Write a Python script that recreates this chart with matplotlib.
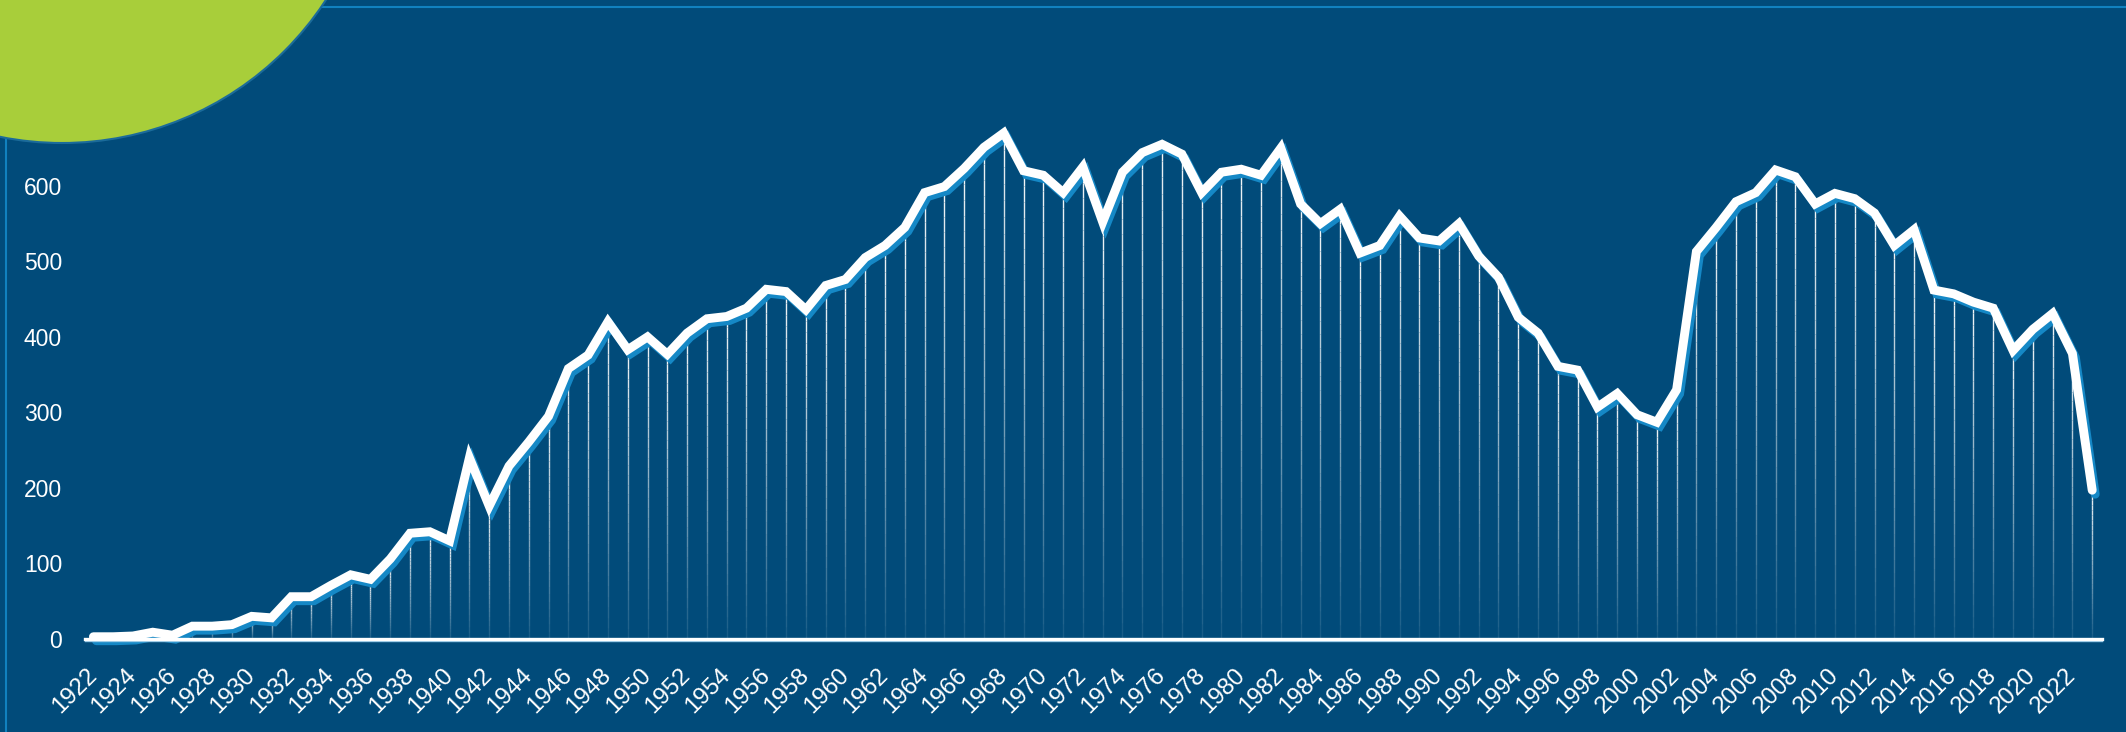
import matplotlib
matplotlib.use("Agg")
import matplotlib.pyplot as plt
import numpy as np
from matplotlib.collections import LineCollection
from matplotlib.lines import Line2D
from matplotlib.patches import Circle
from matplotlib.transforms import offset_copy


years = list(range(1922, 2024))
counts = [
    3, 3, 4, 9, 5, 17, 17, 19, 30, 28,
    56, 56, 71, 85, 79, 106, 140, 142, 130, 240,
    176, 229, 261, 295, 358, 376, 420, 383, 400, 377,
    405, 424, 427, 438, 463, 460, 436, 468, 476, 505,
    521, 545, 591, 599, 623, 651, 670, 620, 614, 591,
    625, 552, 618, 644, 655, 642, 591, 618, 622, 614,
    650, 576, 550, 569, 511, 521, 560, 531, 527, 550,
    507, 479, 426, 405, 361, 356, 307, 325, 297, 287,
    330, 513, 545, 579, 591, 621, 612, 576, 590, 583,
    564, 521, 542, 462, 457, 446, 438, 382, 410, 431,
    378, 197,
]
y_ticks = [0, 100, 200, 300, 400, 500, 600]
x_ticks = list(range(1922, 2023, 2))

BG = "#014b7a"
SHADOW = "#1588c6"
FRAME = "#1181bf"
GREEN = "#a8ce3a"

W, H, DPI = 2126, 732, 100

plt.rcParams["font.family"] = ["Liberation Sans", "DejaVu Sans"]

fig = plt.figure(figsize=(W / DPI, H / DPI), dpi=DPI, facecolor=BG)

# decoration: frame lines and the green corner disc
fig.add_artist(Line2D([6 / W, 6 / W], [0, 1 - 7 / H], color=FRAME, lw=1.5, zorder=1))
fig.add_artist(Line2D([0, 1], [1 - 7 / H, 1 - 7 / H], color=FRAME, lw=1.5, zorder=1))
fig.add_artist(Circle((0.62, 9.04), 3.15, transform=fig.dpi_scale_trans,
                      facecolor=GREEN, edgecolor="#1b6b9a", lw=1.5, zorder=2))

left, right = 85 / W, 2102 / W
bottom = (H - 639) / H
height = 528.7 / H
ax = fig.add_axes([left, bottom, right - left, height])
ax.set_facecolor("none")
xmin, xmax = 1922 - 8.4 / 19.79, 2023 + 9.8 / 19.79
ax.set_xlim(xmin, xmax)
ax.set_ylim(0, 700)
for side in ax.spines.values():
    side.set_visible(False)

# drop lines fading towards the baseline
segs, cols = [], []
n = 30
for x, v in zip(years, counts):
    edges = np.linspace(v, 0, n + 1)
    for i in range(n):
        segs.append([(x, edges[i]), (x, edges[i + 1])])
        cols.append((1, 1, 1, 0.95 - 0.85 * i / (n - 1)))
ax.add_collection(LineCollection(segs, colors=cols, linewidths=1.0, zorder=2))

shadow = offset_copy(ax.transData, fig=fig, x=3, y=-4, units="dots")
ax.plot(years, counts, color=SHADOW, lw=6.4, transform=shadow,
        solid_joinstyle="miter", solid_capstyle="round", zorder=3, clip_on=False)
ax.plot(years, counts, color="white", lw=6.4,
        solid_joinstyle="miter", solid_capstyle="round", zorder=4, clip_on=False)

# baseline
below = offset_copy(ax.transData, fig=fig, x=0, y=-2, units="dots")
ax.plot([xmin, xmax], [0, 0], color="#8fc3e3", lw=1.0, transform=below,
        zorder=5, clip_on=False)
ax.plot([xmin, xmax], [0, 0], color="white", lw=2.4, zorder=5, clip_on=False)

ax.set_yticks(y_ticks)
ax.set_yticklabels([str(t) for t in y_ticks])
ax.set_xticks(x_ticks)
ax.set_xticklabels([str(t) for t in x_ticks], rotation=45, ha="right",
                   va="center", rotation_mode="anchor")
ax.tick_params(axis="y", length=0, pad=16.5, labelsize=16.5, labelcolor="white")
ax.tick_params(axis="x", length=0, pad=23.5, labelsize=17.3, labelcolor="white")

fig.savefig("out.png", dpi=DPI, facecolor=BG)
